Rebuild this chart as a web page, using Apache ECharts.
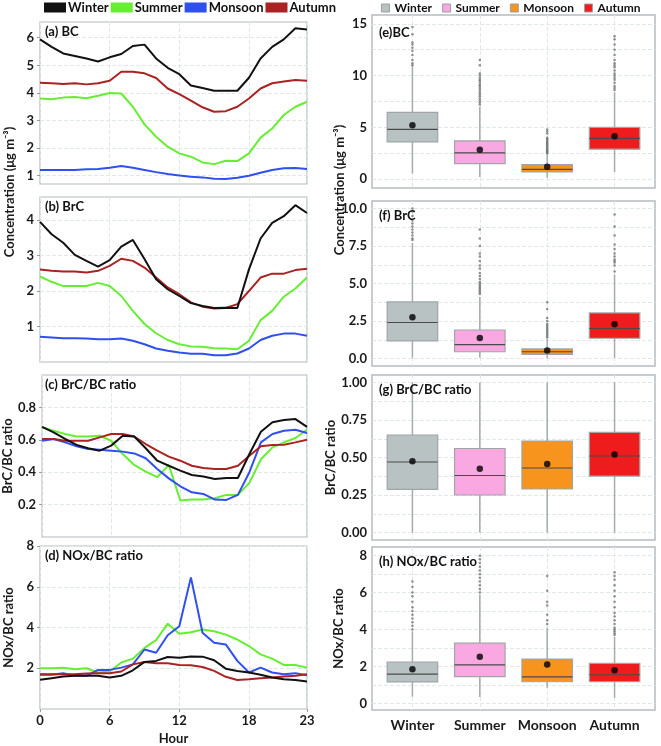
<!DOCTYPE html>
<html><head><meta charset="utf-8">
<script src="https://cdn.jsdelivr.net/npm/echarts@6/dist/echarts.min.js"></script>
<style>html,body{margin:0;padding:0;background:#fff}#c{width:661px;height:746px}</style>
</head><body><div id="c"></div><script>
// ---------- data ----------
const hours = [0,1,2,3,4,5,6,7,8,9,10,11,12,13,14,15,16,17,18,19,20,21,22,23];
const seasons = ['Winter','Summer','Monsoon','Autumn'];

// (a) BC diurnal
const bcWinter  = [5.94,5.67,5.43,5.34,5.25,5.14,5.29,5.41,5.70,5.75,5.25,4.91,4.68,4.27,4.18,4.08,4.08,4.08,4.55,5.25,5.67,5.94,6.34,6.30];
const bcSummer  = [3.80,3.77,3.83,3.85,3.81,3.90,4.00,3.98,3.50,2.86,2.41,2.05,1.81,1.69,1.48,1.42,1.54,1.53,1.81,2.38,2.71,3.20,3.50,3.68];
const bcMonsoon = [1.21,1.21,1.21,1.21,1.23,1.24,1.29,1.35,1.29,1.21,1.13,1.06,1.01,0.96,0.94,0.89,0.88,0.93,1.00,1.11,1.21,1.27,1.28,1.24];
const bcAutumn  = [4.37,4.35,4.32,4.35,4.31,4.35,4.44,4.77,4.77,4.71,4.54,4.16,3.96,3.72,3.48,3.32,3.34,3.50,3.80,4.16,4.35,4.41,4.47,4.44];
// (b) BrC diurnal
const brcWinter  = [3.95,3.60,3.36,3.02,2.85,2.69,2.87,3.25,3.44,2.90,2.33,2.05,1.86,1.66,1.58,1.52,1.53,1.52,2.61,3.48,3.92,4.11,4.42,4.20];
const brcSummer  = [2.41,2.26,2.14,2.14,2.14,2.23,2.14,1.86,1.44,1.07,0.81,0.62,0.50,0.44,0.43,0.39,0.38,0.36,0.60,1.18,1.44,1.84,2.07,2.38];
const brcMonsoon = [0.71,0.69,0.67,0.67,0.66,0.64,0.64,0.66,0.60,0.50,0.38,0.32,0.27,0.23,0.23,0.19,0.19,0.24,0.38,0.62,0.74,0.80,0.80,0.74];
const brcAutumn  = [2.61,2.57,2.55,2.55,2.52,2.57,2.71,2.91,2.85,2.66,2.38,2.10,1.91,1.68,1.56,1.51,1.52,1.63,2.00,2.38,2.49,2.49,2.59,2.63];
// (c) BrC/BC ratio diurnal
const ratioWinter  = [0.680,0.646,0.605,0.568,0.548,0.533,0.564,0.625,0.620,0.548,0.471,0.440,0.410,0.383,0.373,0.358,0.364,0.364,0.512,0.650,0.708,0.722,0.728,0.680];
const ratioSummer  = [0.677,0.656,0.636,0.620,0.620,0.625,0.594,0.512,0.445,0.403,0.369,0.445,0.225,0.231,0.231,0.240,0.260,0.260,0.334,0.480,0.553,0.584,0.611,0.662];
const ratioMonsoon = [0.594,0.605,0.584,0.560,0.543,0.539,0.533,0.527,0.516,0.486,0.420,0.362,0.313,0.276,0.266,0.231,0.229,0.260,0.400,0.584,0.636,0.656,0.662,0.642];
const ratioAutumn  = [0.605,0.605,0.594,0.594,0.594,0.615,0.636,0.636,0.620,0.574,0.533,0.496,0.471,0.440,0.426,0.420,0.420,0.440,0.502,0.560,0.568,0.570,0.584,0.600];
// (d) NOx/BC ratio diurnal
const noxWinter  = [1.43,1.51,1.59,1.63,1.63,1.63,1.55,1.63,1.90,2.31,2.36,2.55,2.52,2.58,2.57,2.39,1.98,1.87,1.79,1.68,1.55,1.46,1.42,1.35];
const noxSummer  = [2.00,2.00,2.03,1.95,2.00,1.79,1.84,2.28,2.47,3.00,3.38,4.19,3.69,3.77,3.90,3.82,3.65,3.41,3.09,2.68,2.47,2.16,2.16,2.03];
const noxMonsoon = [1.68,1.68,1.76,1.63,1.63,1.92,1.92,2.03,2.19,2.92,2.76,3.62,4.06,6.46,3.74,3.25,3.17,2.36,1.79,2.03,1.79,1.71,1.76,1.66];
const noxAutumn  = [1.71,1.71,1.71,1.71,1.74,1.76,1.76,1.84,2.19,2.31,2.24,2.24,2.16,2.15,2.06,1.87,1.58,1.42,1.46,1.51,1.55,1.59,1.63,1.71];

// box stats per season: [lower whisker, Q1, median, Q3, upper whisker]
const bcBox    = [[0.55,3.60,4.80,6.45,10.9],[0.20,1.50,2.55,3.70,7.0],[0.15,0.70,0.95,1.40,2.45],[0.70,2.90,3.95,5.00,8.4]];
const bcMean   = [5.20,2.85,1.20,4.15];
const brcBox   = [[0.05,1.17,2.40,3.77,7.7],[0.05,0.45,0.93,1.90,4.1],[0.02,0.27,0.45,0.64,1.3],[0.05,1.35,2.00,3.04,5.6]];
const brcMean  = [2.75,1.37,0.53,2.29];
const ratioBox = [[0,0.288,0.47,0.650,1.0],[0,0.25,0.38,0.56,1.0],[0,0.29,0.43,0.61,1.0],[0,0.376,0.51,0.667,1.0]];
const ratioMean= [0.475,0.425,0.456,0.52];
const noxBox   = [[0.36,1.16,1.58,2.24,3.9],[0.35,1.45,2.08,3.26,5.9],[0.85,1.17,1.43,2.40,4.1],[0.30,1.17,1.55,2.17,3.6]];
const noxMean  = [1.85,2.53,2.10,1.79];

// outliers per season
const bcOut = [
  [14.7,14.0,13.2,13.0,12.7,12.4,12.0,11.5,11.2,11.0],
  [11.5,11.0,10.2,10.0,9.8,9.6,9.5,9.3,9.1,9.0,8.8,8.6,8.4,8.2,8.0,7.8,7.6,7.4,7.2],
  [4.8,4.6,4.4,4.0,3.9,3.8,3.7,3.6,3.5,3.4,3.3,3.2,3.1,3.0,2.9,2.8,2.7,2.6,2.5],
  [13.8,13.5,13.0,12.5,12.0,11.5,11.2,11.0,10.8,10.5,10.2,10.0,9.8,9.6,9.3,9.0,8.8,8.6]
];
const brcOut = [
  [10.0,9.8,9.5,9.2,9.0,8.8,8.6,8.4,8.2,8.0,7.9],
  [8.6,8.0,7.5,7.0,6.8,6.5,6.2,6.0,5.7,5.5,5.3,5.1,5.0,4.9,4.8,4.7,4.6,4.5,4.4,4.3],
  [3.75,3.3,2.7,2.5,2.3,2.2,2.1,2.0,1.9,1.8,1.7,1.6,1.5,1.4],
  [9.6,8.8,8.2,7.6,7.3,7.0,6.8,6.6,6.5,6.4,6.2,5.8]
];
const ratioOut = [[],[],[],[]];
const noxOut = [
  [6.6,6.3,6.0,5.8,5.5,5.2,5.0,4.8,4.6,4.4,4.2,4.0],
  [8.0,7.8,7.6,7.4,7.2,7.0,6.8,6.6,6.4,6.2,6.0],
  [6.9,6.1,5.5,5.3,4.8,4.5,4.3],
  [7.1,6.9,6.7,6.4,6.1,5.8,5.5,5.2,4.9,4.7,4.5,4.3,4.1,4.0,3.9,3.8,3.7]
];

// ---------- styling ----------
const FONT = 'Lato, "Open Sans", sans-serif';
const lineColors = ['#111111','#66ee33','#3050ee','#aa2222'];
const boxColors  = ['#b9c2c2','#f9a8e2','#f7941e','#ee1c1c'];
const GRID_BORDER = '#b4bcc0';
const SPLIT = {show:true, lineStyle:{color:'#e2e7ea', type:'dashed', width:1}};
const labelStyle = {color:'#1a1a1a', fontFamily:FONT, fontWeight:'bold', fontSize:12};

const leftPanels = [
  {top:22, height:162, min:0.7, max:6.57, labels:[1,2,3,4,5,6], fmt:v=>String(v), series:[bcWinter,bcSummer,bcMonsoon,bcAutumn], title:'(a) BC', name:''},
  {top:197, height:165, min:0, max:4.65, labels:[1,2,3,4], fmt:v=>String(v), series:[brcWinter,brcSummer,brcMonsoon,brcAutumn], title:'(b) BrC', name:''},
  {top:375, height:162, min:0, max:1.0, labels:[0.2,0.4,0.6,0.8], fmt:v=>v.toFixed(1), series:[ratioWinter,ratioSummer,ratioMonsoon,ratioAutumn], title:'(c) BrC/BC ratio', name:'BrC/BC ratio'},
  {top:546, height:166, min:0, max:8, labels:[2,4,6,8], fmt:v=>String(v), series:[noxWinter,noxSummer,noxMonsoon,noxAutumn], title:'(d) NOx/BC ratio', name:'NOx/BC ratio'}
];
const rightPanels = [
  {top:15, height:173, min:-0.85, max:15.85, labels:[0,5,10,15], ticks:[0,2.5,5,7.5,10,12.5,15], fmt:v=>String(v), box:bcBox, mean:bcMean, out:bcOut, title:'(e)BC', name:''},
  {top:201, height:165, min:-0.5, max:10.5, labels:[0,2.5,5,7.5,10], ticks:[0,1.25,2.5,3.75,5,6.25,7.5,8.75,10], fmt:v=>v.toFixed(1), box:brcBox, mean:brcMean, out:brcOut, title:'(f) BrC', name:''},
  {top:375, height:165, min:-0.05, max:1.05, labels:[0,0.25,0.5,0.75,1], ticks:[0,0.125,0.25,0.375,0.5,0.625,0.75,0.875,1], fmt:v=>v.toFixed(2), box:ratioBox, mean:ratioMean, out:ratioOut, title:'(g) BrC/BC ratio', name:'BrC/BC ratio'},
  {top:547, height:163, min:-0.36, max:8.47, labels:[0,2,4,6,8], ticks:[0,1,2,3,4,5,6,7,8], fmt:v=>String(v), box:noxBox, mean:noxMean, out:noxOut, title:'(h) NOx/BC ratio', name:'NOx/BC ratio'}
];

const grid=[], xAxis=[], yAxis=[], series=[], title=[];

leftPanels.forEach((p,i)=>{
  grid.push({left:40, width:267, top:p.top, height:p.height, show:true, borderColor:GRID_BORDER, borderWidth:1.2});
  xAxis.push({gridIndex:i, type:'value', min:0, max:23, interval:6,
    axisLine:{show:false}, axisTick:{show:i===3, length:3, lineStyle:{color:'#999'}},
    axisLabel:Object.assign({show:i===3, margin:5}, labelStyle, {fontSize:13}),
    splitLine:SPLIT,
    name: i===3 ? 'Hour' : '', nameLocation:'middle', nameGap:23,
    nameTextStyle:{fontFamily:FONT, fontWeight:'bold', fontSize:13, color:'#1a1a1a'}});
  yAxis.push({gridIndex:i, type:'value', min:p.min, max:p.max,
    axisLine:{show:false}, axisTick:{show:true, length:3, customValues:p.labels, lineStyle:{color:'#999'}},
    axisLabel:Object.assign({customValues:p.labels, formatter:p.fmt, margin:6}, labelStyle, {fontSize:13}),
    splitLine:SPLIT,
    name:p.name, nameLocation:'middle', nameGap:25,
    nameTextStyle:{fontFamily:FONT, fontWeight:'bold', fontSize:13, color:'#1a1a1a'}});
  p.series.forEach((vals,s)=>{
    series.push({type:'line', name:seasons[s], xAxisIndex:i, yAxisIndex:i,
      data:hours.map((h,k)=>[h, vals[k]]), showSymbol:false, symbol:'none',
      color:lineColors[s], lineStyle:{width:2, color:lineColors[s]}, z:3+(s===0?1:0)});
  });
  title.push({text:p.title, left:45, top:p.top+3, padding:0,
    textStyle:{fontFamily:FONT, fontWeight:'bold', fontSize:13, color:'#111'}});
});

function renderBox(params, api){
  const x=api.value(0), lo=api.value(1), q1=api.value(2), med=api.value(3), q3=api.value(4), hi=api.value(5);
  const half=0.375;
  const pLo=api.coord([x,lo]), pHi=api.coord([x,hi]);
  const a=api.coord([x-half,q1]), b=api.coord([x+half,q3]);
  const m1=api.coord([x-half,med]), m2=api.coord([x+half,med]);
  return {type:'group', children:[
    {type:'line', shape:{x1:pLo[0],y1:pLo[1],x2:pHi[0],y2:pHi[1]}, style:{stroke:'#a3abae', lineWidth:1.5}},
    {type:'rect', shape:{x:a[0], y:b[1], width:b[0]-a[0], height:a[1]-b[1]}, style:{fill:api.visual('color'), stroke:'#a0a6a8', lineWidth:1.2}},
    {type:'line', shape:{x1:m1[0],y1:m1[1],x2:m2[0],y2:m2[1]}, style:{stroke:'#4a4a4a', lineWidth:1.2}}
  ]};
}

rightPanels.forEach((p,j)=>{
  const i = j+4;
  grid.push({left:372, width:283, top:p.top, height:p.height, show:true, borderColor:GRID_BORDER, borderWidth:1.5});
  xAxis.push({gridIndex:i, type:'value', min:0.4, max:4.6,
    axisLine:{show:false}, axisTick:{show:false, customValues:[1,2,3,4]},
    axisLabel:Object.assign({show:j===3, customValues:[1,2,3,4], formatter:v=>seasons[Math.round(v)-1], margin:8}, labelStyle, {fontSize:14}),
    splitLine:SPLIT});
  yAxis.push({gridIndex:i, type:'value', min:p.min, max:p.max,
    axisLine:{show:false}, axisTick:{show:false, customValues:p.ticks},
    axisLabel:Object.assign({customValues:p.labels, formatter:p.fmt, margin:5}, labelStyle, {fontSize:13}),
    splitLine:SPLIT,
    name:p.name, nameLocation:'middle', nameGap:27,
    nameTextStyle:{fontFamily:FONT, fontWeight:'bold', fontSize:13, color:'#1a1a1a'}});
  p.box.forEach((st,s)=>{
    series.push({type:'custom', name:seasons[s]+' box', xAxisIndex:i, yAxisIndex:i,
      renderItem:renderBox, color:boxColors[s], itemStyle:{color:boxColors[s], borderColor:'#9aa0a2', borderWidth:1},
      encode:{x:0, y:[1,2,3,4,5]}, data:[[s+1].concat(st)], z:2});
  });
  const outData=[];
  p.out.forEach((arr,s)=>arr.forEach(v=>outData.push([s+1,v])));
  series.push({type:'scatter', name:'outliers', xAxisIndex:i, yAxisIndex:i, data:outData,
    symbolSize:2.5, itemStyle:{color:'#6f7678', opacity:0.8}, z:3});
  series.push({type:'scatter', name:'mean', xAxisIndex:i, yAxisIndex:i,
    data:p.mean.map((v,s)=>[s+1,v]), symbolSize:6.5, itemStyle:{color:'#000'}, z:5});
  title.push({text:p.title, left:379, top:p.top+(j===0?11:8), padding:0,
    textStyle:{fontFamily:FONT, fontWeight:'bold', fontSize:13, color:'#111'}});
});

const option = {
  animation:false,
  backgroundColor:'#ffffff',
  title,
  legend:[
    {data:seasons, left:44, top:1, icon:'rect', itemWidth:22, itemHeight:10, itemGap:2, padding:0,
     textStyle:{fontFamily:FONT, fontWeight:'bold', fontSize:13, color:'#111', padding:[0,0,0,-3]}},
    {data:seasons.map(s=>s+' box'), left:381, top:2, width:280, icon:'rect', itemWidth:8, itemHeight:8, itemGap:10, padding:0,
     formatter:n=>n.replace(' box',''),
     itemStyle:{borderColor:'#9aa0a2', borderWidth:1},
     textStyle:{fontFamily:FONT, fontWeight:'bold', fontSize:12, color:'#111'}}
  ],
  grid, xAxis, yAxis, series,
  graphic:[
    {type:'text', x:10, y:192, rotation:Math.PI/2, style:{text:'Concentration (μg m⁻³)', x:0, y:0, align:'center', verticalAlign:'middle', fontFamily:FONT, fontWeight:'bold', fontSize:13, fill:'#1a1a1a'}},
    {type:'text', x:340, y:190, rotation:Math.PI/2, style:{text:'Concentration (μg m⁻³)', x:0, y:0, align:'center', verticalAlign:'middle', fontFamily:FONT, fontWeight:'bold', fontSize:13, fill:'#1a1a1a'}}
  ]
};
const chart = echarts.init(document.getElementById('c'), null, {renderer:'canvas'});
chart.setOption(option);
</script></body></html>
